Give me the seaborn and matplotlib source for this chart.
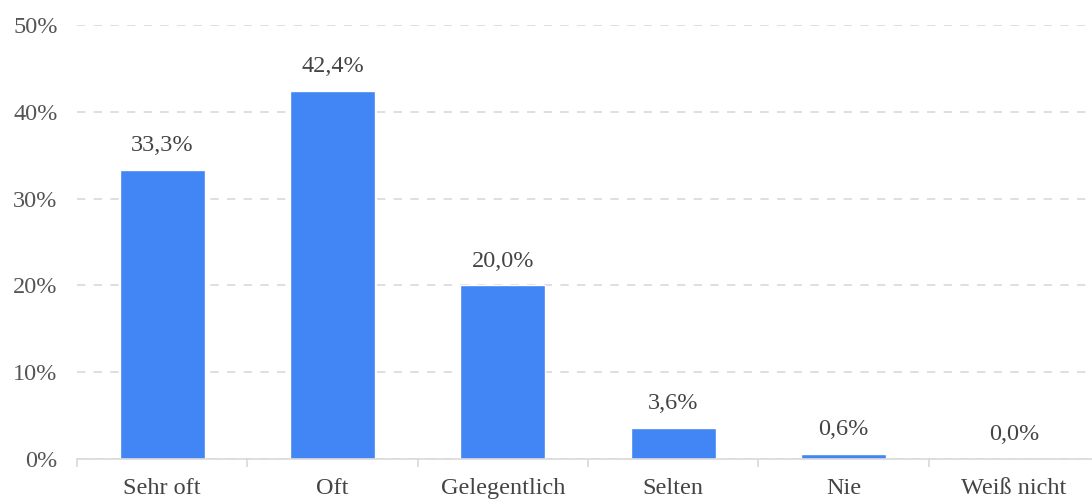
import matplotlib
matplotlib.use('Agg')
import matplotlib.pyplot as plt
import seaborn as sns
import pandas as pd

categories = ['Sehr oft', 'Oft', 'Gelegentlich', 'Selten', 'Nie', 'Weiß nicht']
values = [33.3, 42.4, 20.0, 3.6, 0.6, 0.0]
y_ticks = [0, 10, 20, 30, 40, 50]

sns.set_style('white')
plt.rcParams['font.family'] = ['Liberation Serif', 'DejaVu Serif']

df = pd.DataFrame({'cat': categories, 'val': values})

fig = plt.figure(figsize=(10.92, 4.99), dpi=100)
ax = fig.add_axes([77 / 1092, 40 / 499, 1022 / 1092, 434 / 499])

sns.barplot(data=df, x='cat', y='val', color='#4285F4', width=0.5, ax=ax, saturation=1)

ax.set_xlim(-0.5, len(categories) - 0.5)
ax.set_ylim(0, 50)
ax.set_yticks(y_ticks)
ax.set_yticklabels([f'{t}%' for t in y_ticks])
ax.yaxis.grid(True, color='#d9d9d9', linestyle=(0, (5, 5)), linewidth=1.2)
ax.set_axisbelow(True)

for s in ['top', 'right', 'left']:
    ax.spines[s].set_visible(False)
ax.spines['bottom'].set_color('#d9d9d9')
ax.spines['bottom'].set_linewidth(1.2)

# category separators on the x axis
ax.set_xticks([i - 0.5 for i in range(len(categories) + 1)], minor=True)
ax.tick_params(axis='x', which='minor', bottom=True, length=6, color='#d9d9d9', width=1.2)
ax.tick_params(axis='x', which='major', bottom=True, length=0, pad=14, labelsize=17.5, labelcolor='#444444')
ax.tick_params(axis='y', length=0, pad=14, labelsize=17.5, labelcolor='#555555')
ax.set_xlabel('')
ax.set_ylabel('')

for i, v in enumerate(values):
    ax.annotate(f'{v:.1f}%'.replace('.', ','), (i, v), xytext=(0, 10),
                textcoords='offset points', ha='center', va='bottom',
                fontsize=17.5, color='#444444')

fig.savefig('out.png', dpi=100)
